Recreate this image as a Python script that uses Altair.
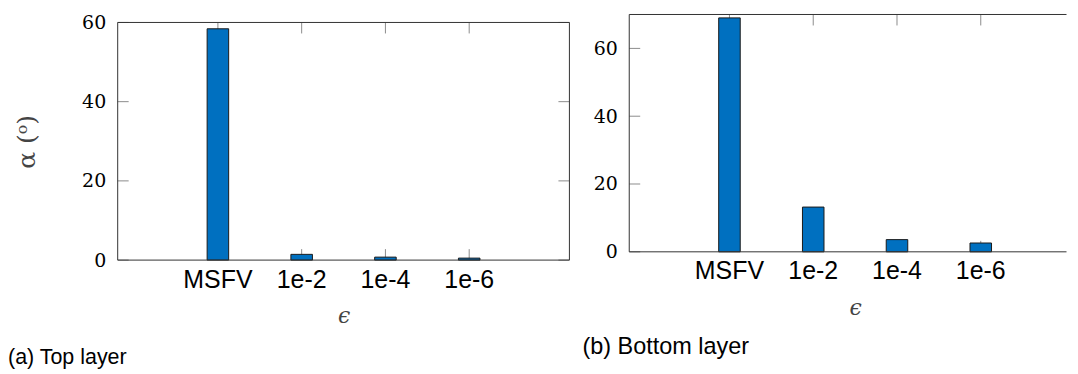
import altair as alt
import pandas as pd

# ---- data ----
categories = ["MSFV", "1e-2", "1e-4", "1e-6"]
top_layer = [58.4, 1.45, 0.75, 0.5]
bottom_layer = [69.0, 13.2, 3.6, 2.6]
y_ticks_top = [0, 20, 40, 60]
y_ticks_bottom = [0, 20, 40, 60]
captions = ["(a) Top layer", "(b) Bottom layer"]
x_title = "ϵ"
y_title = "α (ᵒ)"

BAR = "#0070C0"
FRAME = "#333333"
TICK = "#8c8c8c"
TL = 11  # tick length (px)
PW = 453  # full plot-area width (px)


def panel(values, yticks, dmax, frame_top, w, h, caption, cap_x, cap_y, cap_size,
          ytitle, full_frame):
    df = pd.DataFrame({"cat": categories, "val": values})
    dfy = pd.DataFrame({"cat": [categories[0]] * len(yticks), "val": yticks})
    one = pd.DataFrame({"val": [0], "hi": [yticks[-1]]})

    xs = alt.Scale(domain=categories, range=[5.7, PW - 5.7], paddingInner=0.743, paddingOuter=1)
    ys = alt.Scale(domain=[0, dmax], nice=False, zero=True)

    x_axis = alt.Axis(labelFont="Liberation Sans", labelFontSize=25, labelColor="black",
                      labelPadding=7, labelAngle=0, ticks=False, domain=False, grid=False,
                      title=x_title, titleFont="DejaVu Serif", titleFontStyle="italic",
                      titleFontSize=22, titleFontWeight="normal", titleColor="#444444",
                      titleY=62.5, titleBaseline="alphabetic")
    if ytitle:
        y_axis = alt.Axis(values=yticks, labelFont="DejaVu Serif", labelFontSize=19,
                          labelColor="black", labelPadding=12, ticks=False, domain=False,
                          grid=False, title=y_title, titleFont="DejaVu Serif",
                          titleFontSize=25, titleFontWeight="normal", titleColor="#444444",
                          titleAngle=270, titleX=-83, titleY=127.3,
                          titleBaseline="alphabetic", titleAlign="center")
    else:
        y_axis = alt.Axis(values=yticks, labelFont="DejaVu Serif", labelFontSize=19,
                          labelColor="black", labelPadding=12, ticks=False, domain=False,
                          grid=False, title=None)

    X = alt.X("cat:N", scale=xs, axis=x_axis, title=x_title)
    Y = alt.Y("val:Q", scale=ys, axis=y_axis)

    xt_top = alt.Chart(df).mark_rule(color=TICK, strokeWidth=1).encode(
        x=X, y=alt.value(frame_top), y2=alt.value(frame_top + TL))
    xt_bot = alt.Chart(df).mark_rule(color=TICK, strokeWidth=1).encode(
        x=X, y=alt.value(h - TL), y2=alt.value(h))
    yt_left = alt.Chart(dfy).mark_rule(color=TICK, strokeWidth=1).encode(
        y=Y, x=alt.value(0), x2=alt.value(TL))

    bars = alt.Chart(df).mark_bar(fill=BAR, stroke="#1a1a1a", strokeWidth=1).encode(
        x=X, y=Y)

    layers = [xt_top, xt_bot, yt_left]
    if full_frame:
        yt_right = alt.Chart(dfy).mark_rule(color=TICK, strokeWidth=1).encode(
            y=Y, x=alt.value(PW - TL), x2=alt.value(PW))
        layers.append(yt_right)
    layers.append(bars)
    if full_frame:
        frame = alt.Chart(one).mark_rect(fillOpacity=0, stroke=FRAME, strokeWidth=1).encode(
            x=alt.value(0), x2=alt.value(PW), y=Y, y2="hi:Q")
        layers.append(frame)
    else:
        top_line = alt.Chart(one).mark_rule(color=FRAME, strokeWidth=1).encode(
            x=alt.value(0), x2=alt.value(w), y=alt.value(frame_top))
        left_line = alt.Chart(one).mark_rule(color=FRAME, strokeWidth=1).encode(
            x=alt.value(0), y=alt.value(frame_top), y2=alt.value(h))
        bot_line = alt.Chart(one).mark_rule(color=FRAME, strokeWidth=1).encode(
            x=alt.value(0), x2=alt.value(w), y=alt.value(h))
        layers += [top_line, left_line, bot_line]

    cap = alt.Chart(pd.DataFrame({"t": [caption]})).mark_text(
        align="left", baseline="alphabetic", font="Liberation Sans", fontSize=cap_size,
        color="black").encode(text="t:N", x=alt.value(cap_x), y=alt.value(cap_y))
    layers.append(cap)

    return alt.layer(*layers).properties(width=w, height=h)


left = panel(top_layer, y_ticks_top, 62.01, 8, PW, 246.3, captions[0], -110, 350.8, 21.5,
             True, True)
right = panel(bottom_layer, y_ticks_bottom, 70, 0, 438.5, 238, captions[1], -47, 340.8, 23.5,
              False, False)

chart = alt.hconcat(left, right, spacing=60, bounds="flush").properties(
    padding={"left": 0, "top": 4, "right": 0, "bottom": 0}
).configure_view(stroke=None)

chart.save("out.html", embed_options={"renderer": "svg", "actions": False})
